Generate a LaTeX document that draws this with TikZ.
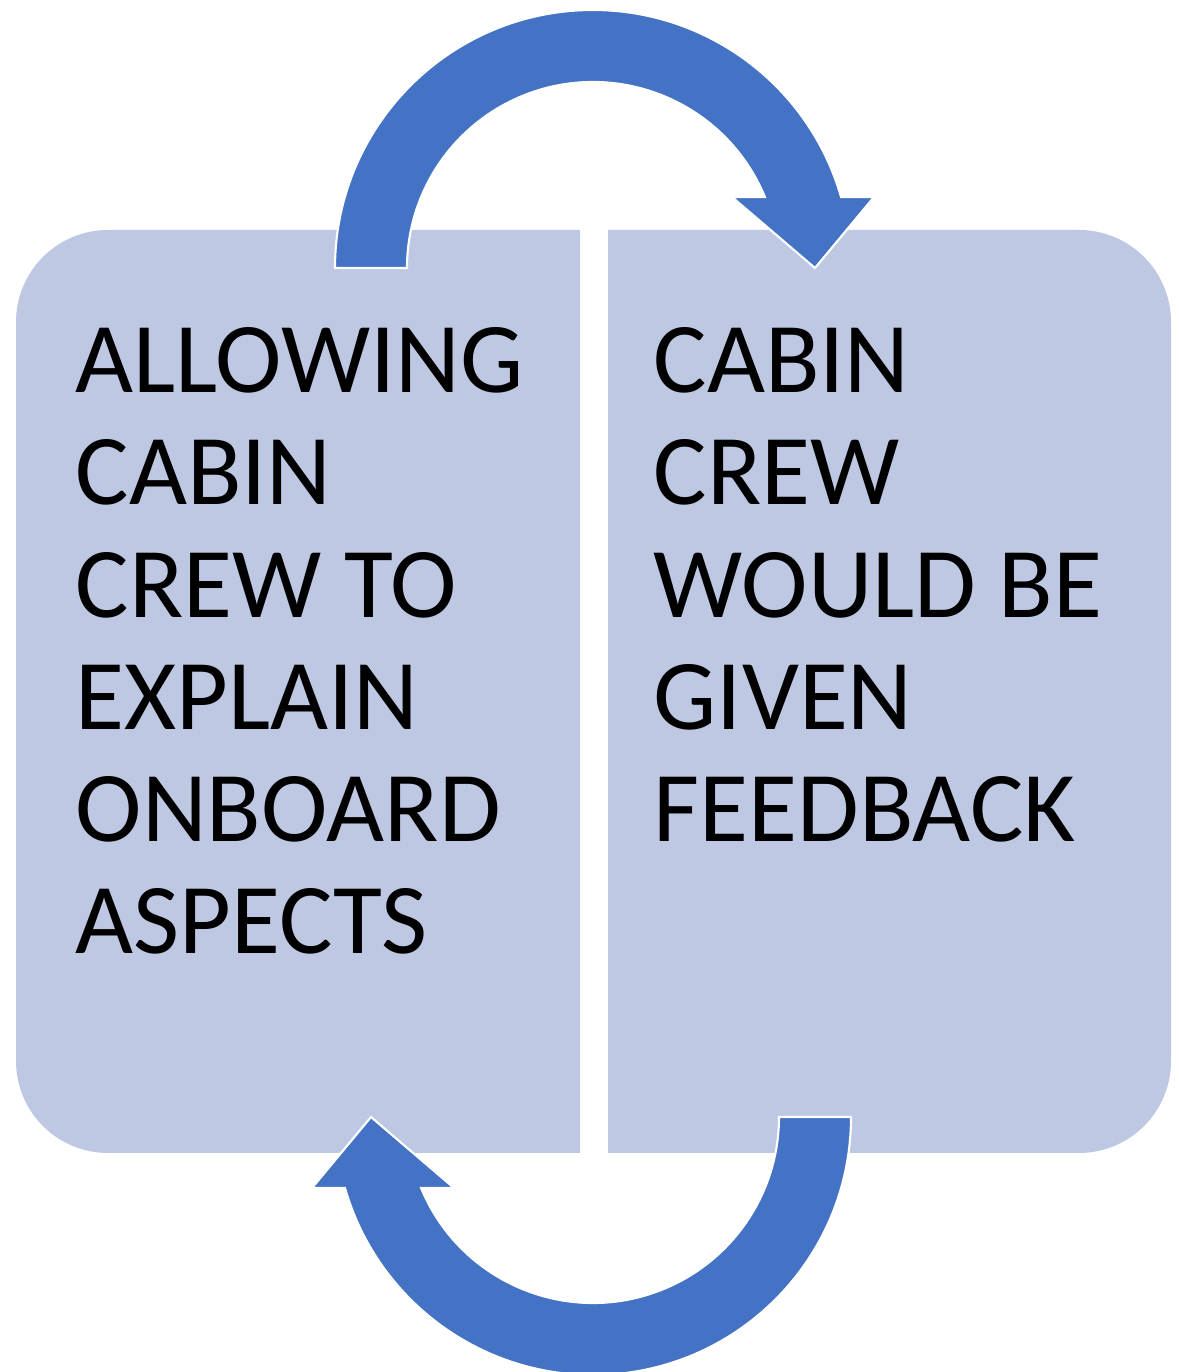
\documentclass[tikz,border=0pt]{standalone}
\usepackage{fontspec}
\setmainfont{Carlito}
\definecolor{panelblue}{HTML}{BEC8E3}
\definecolor{arcblue}{HTML}{4472C4}
\begin{document}
\begin{tikzpicture}[x=0.01cm,y=0.01cm,
  panel/.style={fill=panelblue},
  blockarc/.style={fill=arcblue,draw=white,line width=0.6pt},
  every node/.style={font=\fontsize{28.5}{31.9}\selectfont,inner sep=0pt,align=left,anchor=north west}]
\useasboundingbox (0,0) rectangle (1179,1372);
% two panels, rounded on the outer side only
\fill[panel] (580,1142) -- (108,1142) arc[start angle=90,end angle=180,radius=92]
  -- (16,311) arc[start angle=180,end angle=270,radius=92] -- (580,219) -- cycle;
\fill[panel] (608,1142) -- (1079,1142) arc[start angle=90,end angle=0,radius=92]
  -- (1171,311) arc[start angle=0,end angle=-90,radius=92] -- (608,219) -- cycle;
% circular arrows
\begin{scope}[shift={(593,1104)}]
\fill[blockarc] (180:258) arc[start angle=180,end angle=15.97,radius=258] -- (281,71) -- (222,0)
  -- (139,71) -- (22.44:186) arc[start angle=22.44,end angle=180,radius=186] -- cycle;
\end{scope}
\begin{scope}[shift={(593,255)},rotate=180]
\fill[blockarc] (180:258) arc[start angle=180,end angle=15.97,radius=258] -- (281,71) -- (222,0)
  -- (139,71) -- (22.44:186) arc[start angle=22.44,end angle=180,radius=186] -- cycle;
\end{scope}
% texts
\node (allowing) at (75,1045) {ALLOWING\\CABIN\\CREW TO\\EXPLAIN\\ONBOARD\\ASPECTS};
\node (feedback) at (653,1045) {CABIN\\CREW\\WOULD BE\\GIVEN\\FEEDBACK};
\end{tikzpicture}
\end{document}
